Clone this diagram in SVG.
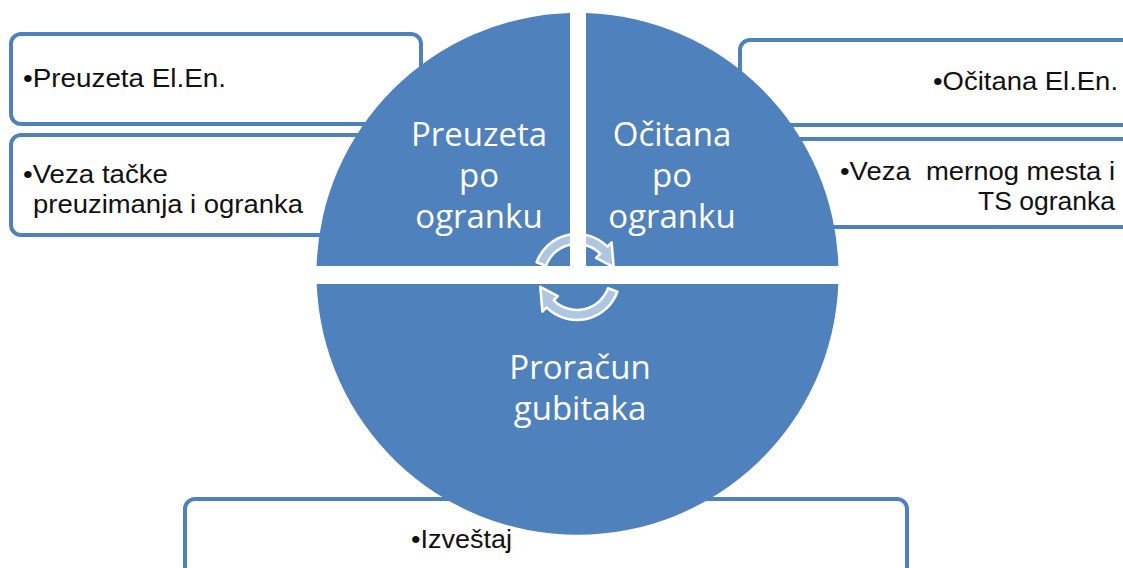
<svg xmlns="http://www.w3.org/2000/svg" width="1123" height="568" viewBox="0 0 1123 568">
<style>
.box{fill:#ffffff;stroke:#4F81BD;stroke-width:4}
.lbl{font-family:"Liberation Sans",Arial,sans-serif;font-size:26px;fill:#111111}
.seg{fill:#4F81BD}
.ct{font-family:"Open Sans","Noto Sans",sans-serif;font-size:33px;fill:#ffffff;text-anchor:middle}
.arr{fill:#ffffff;fill-opacity:0.55;stroke:#ffffff;stroke-width:2.5;stroke-linejoin:round}
</style>
<rect width="1123" height="568" fill="#ffffff"/>
<g id="box-preuzeta-elen">
<rect class="box" x="11" y="34" width="410" height="90" rx="10"/>
<text class="lbl" x="23" y="87" textLength="203" lengthAdjust="spacingAndGlyphs">•Preuzeta El.En.</text>
</g>
<g id="box-veza-tacke">
<rect class="box" x="11" y="135" width="410" height="100" rx="10"/>
<text class="lbl" x="23" y="183" textLength="145" lengthAdjust="spacingAndGlyphs">•Veza tačke</text>
<text class="lbl" x="33" y="213" textLength="270" lengthAdjust="spacingAndGlyphs">preuzimanja i ogranka</text>
</g>
<g id="box-ocitana-elen">
<rect class="box" x="740" y="40" width="420" height="85" rx="10"/>
<text class="lbl" x="1118" y="90" text-anchor="end" textLength="185" lengthAdjust="spacingAndGlyphs">•Očitana El.En.</text>
</g>
<g id="box-veza-mernog">
<rect class="box" x="760" y="139" width="400" height="88" rx="10"/>
<text class="lbl" x="1115" y="180" text-anchor="end" xml:space="preserve" textLength="275" lengthAdjust="spacingAndGlyphs">•Veza  mernog mesta i</text>
<text class="lbl" x="1115" y="210" text-anchor="end" textLength="137" lengthAdjust="spacingAndGlyphs">TS ogranka</text>
</g>
<g id="box-izvestaj">
<rect class="box" x="185" y="499" width="722" height="100" rx="10"/>
<text class="lbl" x="411" y="548" textLength="101" lengthAdjust="spacingAndGlyphs">•Izveštaj</text>
</g>
<g id="seg-preuzeta">
<path class="seg" d="M316.6,266 A261,261 0 0 1 570,13.1 L570,266 Z"/>
<text class="ct" x="479" y="146">Preuzeta</text>
<text class="ct" x="479" y="187">po</text>
<text class="ct" x="479" y="228">ogranku</text>
</g>
<g id="seg-ocitana">
<path class="seg" d="M586,13.1 A261,261 0 0 1 838.4,266 L586,266 Z"/>
<text class="ct" x="672" y="146">Očitana</text>
<text class="ct" x="672" y="187">po</text>
<text class="ct" x="672" y="228">ogranku</text>
</g>
<g id="seg-proracun">
<path class="seg" d="M838.3,284 A261,261 0 0 1 316.7,284 Z"/>
<text class="ct" x="580" y="379">Proračun</text>
<text class="ct" x="580" y="420">gubitaka</text>
</g>
<g id="connectors">
<path class="arr" d="M536.6,262.3 A43,43 0 0 1 607.4,246.6 L611.6,242.4 L613.7,267.2 L596.1,257.9 L600.3,253.7 A33,33 0 0 0 546,265.7 Z"/>
<path class="arr" d="M617.4,291.7 A43,43 0 0 1 546.6,307.4 L542.4,311.6 L540.3,286.8 L557.9,296.1 L553.7,300.3 A33,33 0 0 0 608,288.3 Z"/>
</g>
</svg>
